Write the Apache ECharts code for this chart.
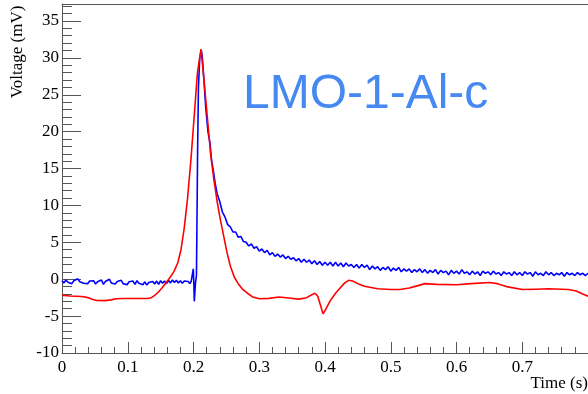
<!DOCTYPE html>
<html>
<head>
<meta charset="utf-8">
<script src="https://cdn.jsdelivr.net/npm/echarts@6/dist/echarts.min.js"></script>
<style>
html, body { margin: 0; padding: 0; background: #fff; }
#main { width: 588px; height: 394px; }
</style>
</head>
<body>
<div id="main"></div>
<script>
// 信号曲线 [时间(s), 电压(mV)]
var blueTrace = [
	[0.000, -0.2], [0.003, -0.5], [0.006, -0.1], [0.009, -0.4], [0.012, -0.3], [0.015, -0.6],
	[0.018, -0.2], [0.021, -0.45], [0.024, 0.05], [0.027, -0.35], [0.030, -0.15], [0.033, -0.55],
	[0.036, -0.3], [0.039, -0.6], [0.042, -0.25], [0.045, -0.5], [0.048, -0.2], [0.051, -0.65],
	[0.054, -0.35], [0.057, -0.55], [0.060, -0.1], [0.063, -0.7], [0.066, -0.3], [0.069, -0.45],
	[0.072, 0.0], [0.075, -0.5], [0.078, -0.25], [0.081, -0.65], [0.084, -0.3], [0.087, -0.5],
	[0.090, -0.15], [0.093, -0.6], [0.096, -0.4], [0.099, -0.75], [0.102, -0.35], [0.105, -0.6],
	[0.108, -0.25], [0.111, -0.7], [0.114, -0.2], [0.117, -0.55], [0.120, -0.3], [0.123, -0.75],
	[0.126, -0.35], [0.129, -0.8], [0.132, -0.45], [0.135, -0.7], [0.138, -0.3], [0.141, -0.65],
	[0.144, -0.25], [0.147, -0.7], [0.150, -0.2], [0.153, -0.55], [0.156, -0.25], [0.159, -0.6],
	[0.162, -0.15], [0.165, -0.5], [0.168, -0.1], [0.171, -0.45], [0.174, -0.15], [0.177, -0.5],
	[0.180, -0.2], [0.183, -0.55], [0.186, -0.25], [0.189, -0.5], [0.192, -0.3], [0.1945, -0.6],
	[0.1965, -0.3], [0.1985, -0.5], [0.1997, 1.4], [0.2005, -0.5], [0.2012, -3.0],
	[0.2030, -0.5], [0.2045, 0.5], [0.2055, 10], [0.2062, 17], [0.2075, 26], [0.2095, 30],
	[0.2120, 31.0], [0.2135, 30.0], [0.2160, 26.8], [0.2185, 23.4], [0.2220, 20.0], [0.2250, 18.5],
	[0.2275, 16.1], [0.2300, 14.8], [0.2330, 13.0], [0.2360, 11.6], [0.2400, 10.5], [0.2440, 9.1],
	[0.2480, 8.4], [0.2520, 7.4], [0.2560, 7.1], [0.2600, 6.4], [0.2640, 6.4], [0.2680, 5.7],
	[0.2720, 5.8], [0.2760, 5.1], [0.2800, 5.0], [0.2840, 4.5], [0.2880, 4.8], [0.2920, 4.2],
	[0.2960, 4.4], [0.3000, 3.8], [0.3040, 4.1], [0.3080, 3.6], [0.3120, 3.9], [0.3160, 3.3],
	[0.3200, 3.6], [0.3240, 3.1], [0.3280, 3.4], [0.3320, 3.0], [0.3360, 3.3], [0.3400, 2.8],
	[0.3440, 3.1], [0.3480, 2.7], [0.3520, 2.9], [0.3560, 2.5], [0.3600, 2.8], [0.3640, 2.3],
	[0.3680, 2.7], [0.3720, 2.3], [0.3760, 2.6], [0.3800, 2.1], [0.3840, 2.5], [0.3880, 2.0],
	[0.3920, 2.4], [0.3960, 1.9], [0.4000, 2.3], [0.4040, 1.9], [0.4080, 2.3], [0.4120, 1.8],
	[0.4160, 2.3], [0.4200, 1.8], [0.4240, 2.2], [0.4280, 1.7], [0.4320, 2.2], [0.4360, 1.8],
	[0.4400, 2.0], [0.4440, 1.6], [0.4480, 2.0], [0.4520, 1.5], [0.4560, 2.0], [0.4600, 1.6],
	[0.4640, 1.9], [0.4680, 1.3], [0.4720, 1.8], [0.4760, 1.4], [0.4800, 1.7], [0.4840, 1.2],
	[0.4880, 1.6], [0.4920, 1.3], [0.4960, 1.7], [0.5000, 1.1], [0.5040, 1.5], [0.5080, 1.2],
	[0.5120, 1.6], [0.5160, 1.0], [0.5200, 1.4], [0.5240, 1.1], [0.5280, 1.4], [0.5320, 0.9],
	[0.5360, 1.3], [0.5400, 1.0], [0.5440, 1.4], [0.5480, 0.9], [0.5520, 1.3], [0.5560, 0.8],
	[0.5600, 1.2], [0.5640, 0.9], [0.5680, 1.3], [0.5720, 0.7], [0.5760, 1.2], [0.5800, 0.9],
	[0.5840, 1.1], [0.5880, 0.6], [0.5920, 1.2], [0.5960, 0.8], [0.6000, 1.1], [0.6040, 0.7],
	[0.6080, 1.3], [0.6120, 0.8], [0.6160, 1.0], [0.6200, 0.6], [0.6240, 1.1], [0.6280, 0.7],
	[0.6320, 1.0], [0.6360, 0.5], [0.6400, 1.1], [0.6440, 0.8], [0.6480, 1.0], [0.6520, 0.6],
	[0.6560, 1.1], [0.6600, 0.7], [0.6640, 0.9], [0.6680, 0.5], [0.6720, 1.0], [0.6760, 0.7],
	[0.6800, 0.9], [0.6840, 0.5], [0.6880, 1.0], [0.6920, 0.6], [0.6960, 0.9], [0.7000, 0.5],
	[0.7040, 1.0], [0.7080, 0.7], [0.7120, 0.9], [0.7160, 0.4], [0.7200, 1.0], [0.7240, 0.6],
	[0.7280, 0.8], [0.7320, 0.5], [0.7360, 1.0], [0.7400, 0.6], [0.7440, 0.9], [0.7480, 0.5],
	[0.7520, 0.8], [0.7560, 0.6], [0.7600, 0.9], [0.7640, 0.4], [0.7680, 0.9], [0.7720, 0.6],
	[0.7760, 0.8], [0.7800, 0.5], [0.7840, 0.9], [0.7880, 0.6], [0.7920, 0.8], [0.7960, 0.5],
	[0.8000, 0.8]
];
var redTrace = [
	[0.000, -2.18], [0.012, -2.27], [0.030, -2.35], [0.040, -2.5], [0.047, -2.75], [0.053, -2.88],
	[0.065, -2.9], [0.075, -2.8], [0.082, -2.65], [0.095, -2.62], [0.110, -2.62], [0.130, -2.62],
	[0.136, -2.5], [0.141, -2.2], [0.146, -1.8], [0.152, -1.2], [0.158, -0.5], [0.164, 0.2],
	[0.170, 1.0], [0.176, 2.2], [0.181, 4.0], [0.186, 7.0], [0.191, 11.0], [0.196, 16.1],
	[0.201, 22.0], [0.206, 28.0], [0.2114, 31.2], [0.216, 27.0], [0.221, 22.0], [0.226, 17.0],
	[0.231, 13.5], [0.236, 10.5], [0.241, 8.0], [0.246, 5.8], [0.251, 3.6], [0.256, 1.8],
	[0.262, 0.3], [0.268, -0.6], [0.274, -1.3], [0.282, -1.9], [0.290, -2.4], [0.300, -2.65],
	[0.315, -2.6], [0.330, -2.4], [0.345, -2.55], [0.360, -2.7], [0.372, -2.5], [0.380, -2.1],
	[0.385, -1.9], [0.389, -2.3], [0.393, -3.5], [0.397, -4.7], [0.401, -4.1], [0.408, -2.9],
	[0.416, -1.9], [0.424, -1.1], [0.430, -0.5], [0.436, -0.15], [0.442, -0.25], [0.450, -0.6],
	[0.460, -0.95], [0.480, -1.3], [0.500, -1.4], [0.514, -1.4], [0.528, -1.2], [0.540, -0.9],
	[0.552, -0.6], [0.570, -0.7], [0.600, -0.75], [0.622, -0.6], [0.650, -0.45], [0.662, -0.6],
	[0.676, -1.0], [0.700, -1.4], [0.720, -1.35], [0.740, -1.3], [0.770, -1.4], [0.782, -1.6],
	[0.792, -2.0], [0.800, -2.3]
];
var xRange = [0, 0.8];
var yRange = [-10, 37.3];
var sampleName = 'LMO-1-Al-c';
var xTitle = 'Time (s)';
var yTitle = 'Voltage (mV)';

var myChart = echarts.init(document.getElementById('main'));
var serif = 'Liberation Serif';
var axisColor = '#555';

var option = {
	animation: false,
	grid: { left: 62, top: 4, width: 527, height: 349 },
	xAxis: [{
		type: 'value',
		min: xRange[0],
		max: xRange[1],
		interval: 0.1,
		axisLine: { show: true, onZero: false, lineStyle: { color: axisColor, width: 1 } },
		axisTick: { show: true, inside: true, length: 11, lineStyle: { color: axisColor } },
		minorTick: { show: true, splitNumber: 5, length: 6, lineStyle: { color: axisColor } },
		splitLine: { show: false },
		axisLabel: {
			margin: 6, color: '#000', fontFamily: serif, fontSize: 17,
			showMaxLabel: false
		}
	}, {
		type: 'value',
		position: 'top',
		min: xRange[0],
		max: xRange[1],
		axisLine: { show: true, onZero: false, lineStyle: { color: axisColor, width: 1 } },
		axisTick: { show: false },
		axisLabel: { show: false },
		splitLine: { show: false }
	}],
	yAxis: {
		type: 'value',
		min: yRange[0],
		max: yRange[1],
		interval: 5,
		axisLine: { show: true, onZero: false, lineStyle: { color: axisColor, width: 1 } },
		axisTick: { show: true, inside: true, length: 19, lineStyle: { color: axisColor } },
		minorTick: { show: true, splitNumber: 5, length: 10, lineStyle: { color: axisColor } },
		splitLine: { show: false },
		axisLabel: {
			margin: 3, color: '#000', fontFamily: serif, fontSize: 17,
			showMaxLabel: false
		}
	},
	graphic: [{
		type: 'text',
		x: 18, y: 52,
		rotation: Math.PI / 2,
		style: {
			text: yTitle, fill: '#000', font: '17px "Liberation Serif"',
			align: 'center', verticalAlign: 'middle'
		}
	}, {
		type: 'text',
		x: 588, y: 384,
		style: {
			text: xTitle, fill: '#000', font: '17px "Liberation Serif"',
			align: 'right', verticalAlign: 'middle'
		}
	}, {
		type: 'text',
		x: 243, y: 95,
		style: {
			text: sampleName, fill: '#4689f0', font: '48px "Liberation Sans"',
			align: 'left', verticalAlign: 'middle'
		}
	}],
	series: [{
		type: 'line',
		data: blueTrace,
		showSymbol: false,
		lineStyle: { color: '#0000ff', width: 1.6 },
		itemStyle: { color: '#0000ff' },
		z: 2
	}, {
		type: 'line',
		data: redTrace,
		showSymbol: false,
		lineStyle: { color: '#ff0000', width: 1.6 },
		itemStyle: { color: '#ff0000' },
		z: 3
	}]
};
myChart.setOption(option);
</script>
</body>
</html>
